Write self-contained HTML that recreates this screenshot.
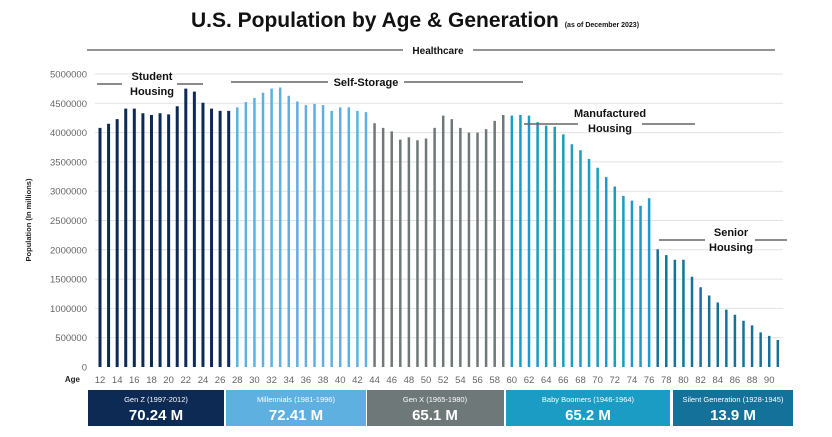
<!DOCTYPE html>
<html><head><meta charset="utf-8"><style>
body{margin:0;background:#fff;}
svg text{font-family:"Liberation Sans",sans-serif;}
</style></head><body>
<svg width="832" height="432" xmlns="http://www.w3.org/2000/svg">
<text x="415" y="27" font-size="21" font-weight="bold" text-anchor="middle" fill="#111">U.S. Population by Age &amp; Generation <tspan font-size="7">(as of December 2023)</tspan></text>
<line x1="87" y1="50" x2="403" y2="50" stroke="#555" stroke-width="1.3"/>
<line x1="473" y1="50" x2="775" y2="50" stroke="#555" stroke-width="1.3"/>
<text x="438" y="54" font-size="10" font-weight="bold" text-anchor="middle" fill="#111">Healthcare</text>
<g stroke="#e2e2e2" stroke-width="1">
<line x1="95" x2="783" y1="337.7" y2="337.7"/><line x1="95" x2="783" y1="308.4" y2="308.4"/>
<line x1="95" x2="783" y1="279.1" y2="279.1"/><line x1="95" x2="783" y1="249.8" y2="249.8"/>
<line x1="95" x2="783" y1="220.5" y2="220.5"/><line x1="95" x2="783" y1="191.2" y2="191.2"/>
<line x1="95" x2="783" y1="161.9" y2="161.9"/><line x1="95" x2="783" y1="132.6" y2="132.6"/>
<line x1="95" x2="783" y1="103.3" y2="103.3"/><line x1="95" x2="783" y1="74" y2="74"/>
</g>
<g font-size="9.5" fill="#666" text-anchor="end">
<text x="87" y="370.5">0</text><text x="87" y="341.2">500000</text><text x="87" y="311.9">1000000</text>
<text x="87" y="282.6">1500000</text><text x="87" y="253.3">2000000</text><text x="87" y="224">2500000</text>
<text x="87" y="194.7">3000000</text><text x="87" y="165.4">3500000</text><text x="87" y="136.1">4000000</text>
<text x="87" y="106.8">4500000</text><text x="87" y="77.5">5000000</text>
</g>
<text transform="translate(31,220) rotate(-90)" font-size="7.5" font-weight="bold" text-anchor="middle" fill="#222">Population (In millions)</text>
<g fill="none">
<path stroke="#0d2a55" stroke-width="3" d="M100 367V127.9M108.58 367V123.8M117.16 367V119.1M125.74 367V108.6M134.32 367V108.6M142.9 367V113.3M151.48 367V115M160.06 367V113.3M168.64 367V114.4M177.22 367V106.2M185.8 367V88.6M194.38 367V91.6M202.96 367V102.7M211.54 367V108.6M220.12 367V110.9M228.7 367V110.9"/>
<path stroke="#5eb0e0" stroke-width="2.5" d="M237.28 367V107.4M245.86 367V102.1M254.44 367V98M263.02 367V92.8M271.6 367V88.6M280.18 367V87.5M288.76 367V95.7M297.34 367V101.5M305.92 367V105.1M314.5 367V103.9M323.08 367V105.1M331.66 367V110.9M340.24 367V107.4M348.82 367V107.4M357.4 367V110.9M365.98 367V112.1"/>
<path stroke="#6f7878" stroke-width="2.5" d="M374.56 367V123.2M383.14 367V127.9M391.72 367V131.4M400.3 367V139.6M408.88 367V137.3M417.46 367V140.2M426.04 367V138.5M434.62 367V127.9M443.2 367V115.6M451.78 367V119.1M460.36 367V127.9M468.94 367V132.6M477.52 367V132.6M486.1 367V129.1M494.68 367V120.9M503.26 367V115"/>
<path stroke="#1a9cc4" stroke-width="2.5" d="M511.84 367V115.6M520.42 367V115M529 367V115.6M537.58 367V122.1M546.16 367V125.6M554.74 367V126.7M563.32 367V134.4M571.9 367V144.3M580.48 367V150.2M589.06 367V159M597.64 367V167.8M606.22 367V177.1M614.8 367V186.5M623.38 367V195.9M631.96 367V200.6M640.54 367V205.8M649.12 367V198.2"/>
<path stroke="#14729a" stroke-width="2.5" d="M657.7 367V249.2M666.28 367V255.1M674.86 367V259.8M683.44 367V259.8M692.02 367V276.8M700.6 367V287.3M709.18 367V295.5M717.76 367V302.5M726.34 367V309.6M734.92 367V314.8M743.5 367V320.7M752.08 367V325.4M760.66 367V332.4M769.24 367V335.9M777.82 367V340"/>
</g>
<g font-size="9.5" fill="#666" text-anchor="middle">
<text x="100" y="383">12</text><text x="117.2" y="383">14</text><text x="134.3" y="383">16</text><text x="151.5" y="383">18</text>
<text x="168.6" y="383">20</text><text x="185.8" y="383">22</text><text x="203" y="383">24</text><text x="220.1" y="383">26</text>
<text x="237.3" y="383">28</text><text x="254.4" y="383">30</text><text x="271.6" y="383">32</text><text x="288.8" y="383">34</text>
<text x="305.9" y="383">36</text><text x="323.1" y="383">38</text><text x="340.2" y="383">40</text><text x="357.4" y="383">42</text>
<text x="374.6" y="383">44</text><text x="391.7" y="383">46</text><text x="408.9" y="383">48</text><text x="426" y="383">50</text>
<text x="443.2" y="383">52</text><text x="460.4" y="383">54</text><text x="477.5" y="383">56</text><text x="494.7" y="383">58</text>
<text x="511.8" y="383">60</text><text x="529" y="383">62</text><text x="546.2" y="383">64</text><text x="563.3" y="383">66</text>
<text x="580.5" y="383">68</text><text x="597.6" y="383">70</text><text x="614.8" y="383">72</text><text x="632" y="383">74</text>
<text x="649.1" y="383">76</text><text x="666.3" y="383">78</text><text x="683.4" y="383">80</text><text x="700.6" y="383">82</text>
<text x="717.8" y="383">84</text><text x="734.9" y="383">86</text><text x="752.1" y="383">88</text><text x="769.2" y="383">90</text>
</g>
<text x="80" y="382" font-size="8" font-weight="bold" text-anchor="end" fill="#222">Age</text>
<g stroke="#666" stroke-width="1.5">
<line x1="97" y1="84" x2="122" y2="84"/><line x1="177" y1="84" x2="203" y2="84"/>
<line x1="231" y1="82" x2="328" y2="82"/><line x1="404" y1="82" x2="523" y2="82"/>
<line x1="524" y1="124" x2="578" y2="124"/><line x1="642" y1="124" x2="695" y2="124"/>
<line x1="659" y1="240" x2="705" y2="240"/><line x1="755" y1="240" x2="787" y2="240"/>
</g>
<g font-size="11" font-weight="bold" text-anchor="middle" fill="#111">
<text x="152" y="80">Student</text><text x="152" y="95">Housing</text>
<text x="366" y="86">Self-Storage</text>
<text x="610" y="117">Manufactured</text><text x="610" y="132">Housing</text>
<text x="731" y="236">Senior</text><text x="731" y="251">Housing</text>
</g>
<rect x="88" y="390" width="136" height="36" fill="#0d2a55"/>
<rect x="226" y="390" width="140" height="36" fill="#5eb0e0"/>
<rect x="367" y="390" width="137" height="36" fill="#6f7878"/>
<rect x="506" y="390" width="164" height="36" fill="#1a9cc4"/>
<rect x="673" y="390" width="120" height="36" fill="#14729a"/>
<g fill="#fff" text-anchor="middle">
<text x="156" y="402" font-size="7.5">Gen Z (1997-2012)</text><text x="156" y="420" font-size="15" font-weight="bold">70.24 M</text>
<text x="296" y="402" font-size="7.5">Millennials (1981-1996)</text><text x="296" y="420" font-size="15" font-weight="bold">72.41 M</text>
<text x="435" y="402" font-size="7.5">Gen X (1965-1980)</text><text x="435" y="420" font-size="15" font-weight="bold">65.1 M</text>
<text x="588" y="402" font-size="7.5">Baby Boomers (1946-1964)</text><text x="588" y="420" font-size="15" font-weight="bold">65.2 M</text>
<text x="733" y="402" font-size="7.5">Silent Generation (1928-1945)</text><text x="733" y="420" font-size="15" font-weight="bold">13.9 M</text>
</g>
</svg>
</body></html>
